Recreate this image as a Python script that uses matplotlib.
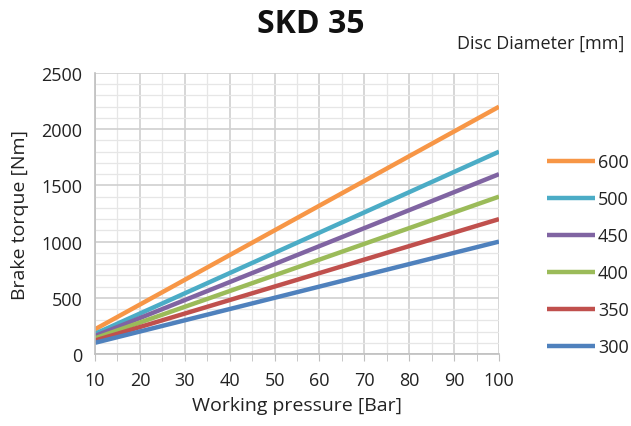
import matplotlib
matplotlib.use("Agg")
import matplotlib.pyplot as plt
from matplotlib.ticker import MultipleLocator

plt.rcParams['font.family'] = ['Open Sans', 'DejaVu Sans']

pressure = [10, 20, 30, 40, 50, 60, 70, 80, 90, 100]
diameters = ["600", "500", "450", "400", "350", "300"]
torque = {
    "600": [220, 440, 660, 880, 1100, 1320, 1540, 1760, 1980, 2200],
    "500": [180, 360, 540, 720, 900, 1080, 1260, 1440, 1620, 1800],
    "450": [160, 320, 480, 640, 800, 960, 1120, 1280, 1440, 1600],
    "400": [140, 280, 420, 560, 700, 840, 980, 1120, 1260, 1400],
    "350": [120, 240, 360, 480, 600, 720, 840, 960, 1080, 1200],
    "300": [100, 200, 300, 400, 500, 600, 700, 800, 900, 1000],
}
colors = {"600": "#F79646", "500": "#4BACC6", "450": "#8064A2",
          "400": "#9BBB59", "350": "#C0504D", "300": "#4F81BD"}

fig = plt.figure(figsize=(6.31, 4.27), dpi=100)
ax = fig.add_axes([0.1506, 0.1686, 0.6402, 0.6581])

for d in diameters:
    ax.plot(pressure, torque[d], color=colors[d], lw=3.2, label=d,
            solid_capstyle='butt')

ax.set_xlim(10, 100)
ax.set_ylim(0, 2500)
ax.xaxis.set_major_locator(MultipleLocator(10))
ax.xaxis.set_minor_locator(MultipleLocator(5))
ax.yaxis.set_major_locator(MultipleLocator(500))
ax.yaxis.set_minor_locator(MultipleLocator(100))
ax.grid(which='major', color='#d0d0d0', lw=1.2)
ax.grid(which='minor', color='#e6e6e6', lw=0.9)
ax.set_axisbelow(True)
for s in ['top', 'right']:
    ax.spines[s].set_visible(False)
for s in ['left', 'bottom']:
    ax.spines[s].set_color('#bfbfbf')
    ax.spines[s].set_linewidth(1.2)
ax.tick_params(axis='x', which='both', length=5, color='#bfbfbf', labelsize=13,
               labelcolor='#222222', pad=7)
ax.tick_params(axis='y', which='both', length=0, labelsize=13,
               labelcolor='#222222', pad=9)

ax.set_xlabel("Working pressure [Bar]", fontsize=14, color='#222222', labelpad=5)
ax.set_ylabel("Brake torque [Nm]", fontsize=14, color='#222222', labelpad=9)

fig.text(0.492, 0.942, "SKD 35", fontsize=23, fontweight='bold',
         ha='center', va='center', color='#111111')
fig.text(0.857, 0.897, "Disc Diameter [mm]", fontsize=13, ha='center',
         va='center', color='#222222')

leg = ax.legend(loc='upper left', bbox_to_anchor=(1.1, 0.74), frameon=False,
                fontsize=13, handlelength=2.7, handletextpad=0.15,
                labelspacing=1.05, borderaxespad=0)
for t in leg.get_texts():
    t.set_color('#222222')

fig.savefig("out.png", dpi=100)
